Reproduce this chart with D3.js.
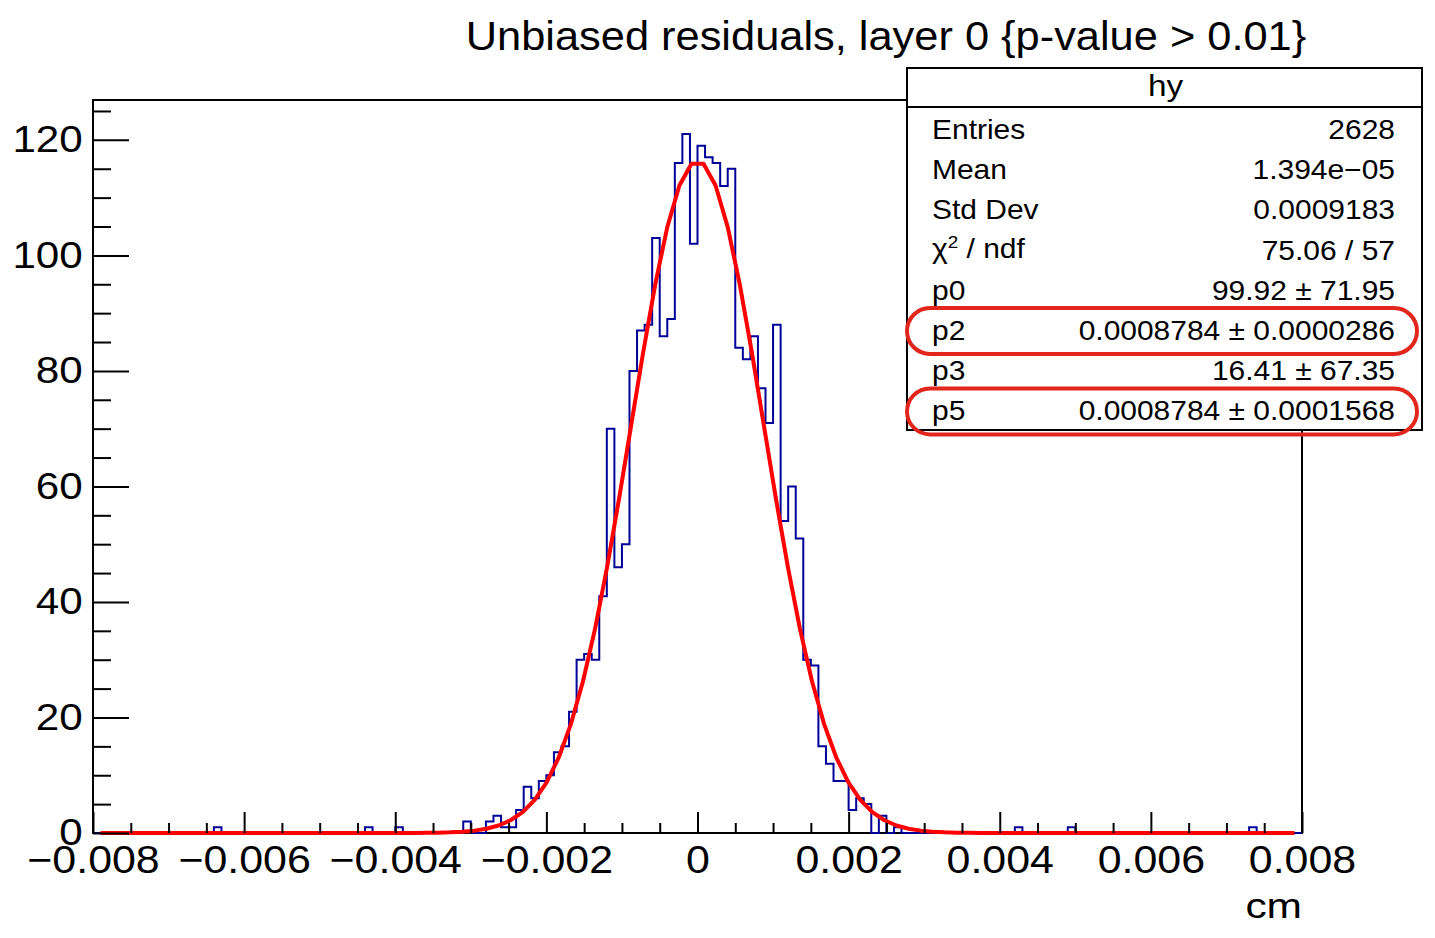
<!DOCTYPE html>
<html>
<head>
<meta charset="utf-8">
<script src="https://cdn.jsdelivr.net/npm/d3@7"></script>
<style>
  body { margin: 0; background: #fff; }
  text { font-family: "Liberation Sans", Arial, Helvetica, sans-serif; fill: #000; }
</style>
</head>
<body>
<svg id="chart" width="1435" height="938"></svg>
<script>
// histogram: 160 bins of 0.0001 starting at -0.008
const binLow = -0.008;
const binWidth = 0.0001;
const counts = [
  0, 0, 0, 0, 0, 0, 0, 0, 0, 0, 0, 0, 0, 0, 0, 0, 1, 0, 0, 0,
  0, 0, 0, 0, 0, 0, 0, 0, 0, 0, 0, 0, 0, 0, 0, 0, 1, 0, 0, 0,
  1, 0, 0, 0, 0, 0, 0, 0, 0, 2, 0, 0, 2, 3, 1, 1, 4, 8, 6, 9,
  10, 14, 15, 21, 30, 31, 30, 41, 70, 46, 50, 80, 87, 88, 103, 86, 89, 116, 121, 102,
  119, 117, 116, 112, 115, 84, 82, 86, 77, 71, 88, 54, 60, 51, 30, 29, 15, 12, 9, 9,
  4, 6, 5, 0, 3, 0, 1, 0, 0, 0, 0, 0, 0, 0, 0, 0, 0, 0, 0, 0,
  0, 0, 1, 0, 0, 0, 0, 0, 0, 1, 0, 0, 0, 0, 0, 0, 0, 0, 0, 0,
  0, 0, 0, 0, 0, 0, 0, 0, 0, 0, 0, 0, 0, 1, 0, 0, 0, 0, 0, 0
];

const xTicks = [-0.008, -0.006, -0.004, -0.002, 0, 0.002, 0.004, 0.006, 0.008];
const xTickLabels = ["\u22120.008", "\u22120.006", "\u22120.004", "\u22120.002", "0", "0.002", "0.004", "0.006", "0.008"];
const yTicks = [0, 20, 40, 60, 80, 100, 120];

// fit: p0*gaus(p1,p2) + p3*gaus(p4,p5)
const fitParams = { p0: 99.92, p1: 0, p2: 0.0008784, p3: 16.41, p4: 0, p5: 0.0008784 };
const fitRange = [-0.0079, 0.0079];
const fitPoints = 100;

const statLabels = ["Entries", "Mean", "Std Dev", "chi2", "p0", "p2", "p3", "p5"];
const statValues = ["2628", "1.394e\u221205", "0.0009183", "75.06 / 57", "99.92 \u00b1 71.95",
  "0.0008784 \u00b1 0.0000286", "16.41 \u00b1 67.35", "0.0008784 \u00b1 0.0001568"];
const circled = ["p2", "p5"];

const margin = { top: 100, right: 133, bottom: 105, left: 93 };
const W = 1435, H = 938;
const stretch = 1.11; // the reference glyphs are a bit wider than Liberation Sans

const svg = d3.select("#chart");

// text placed with a horizontal stretch around its anchor point
function label(parent, px, py, str, size, anchor, sx) {
  return parent.append("text")
    .attr("transform", `translate(${px},${py}) scale(${sx || stretch},1)`)
    .attr("text-anchor", anchor || "start")
    .style("font-size", size + "px")
    .text(str);
}

const x = d3.scaleLinear().domain([-0.008, 0.008]).range([margin.left, W - margin.right]);
const y = d3.scaleLinear().domain([0, 126.9]).range([H - margin.bottom, margin.top]);

// frame
svg.append("rect")
  .attr("x", x(-0.008)).attr("y", y(126.9))
  .attr("width", x(0.008) - x(-0.008)).attr("height", y(0) - y(126.9))
  .attr("fill", "none").attr("stroke", "#000").attr("stroke-width", 2);

// histogram outline
const pts = [[binLow, 0]];
counts.forEach((c, i) => {
  pts.push([binLow + i * binWidth, c]);
  pts.push([binLow + (i + 1) * binWidth, c]);
});
pts.push([binLow + counts.length * binWidth, 0]);

svg.append("path")
  .datum(pts)
  .attr("fill", "none")
  .attr("stroke", "#000099")
  .attr("stroke-width", 2)
  .attr("d", d3.line().x(d => x(d[0])).y(d => y(d[1])));

// fit curve
const fit = v => fitParams.p0 * Math.exp(-0.5 * ((v - fitParams.p1) / fitParams.p2) ** 2)
  + fitParams.p3 * Math.exp(-0.5 * ((v - fitParams.p4) / fitParams.p5) ** 2);
const fx = d3.range(fitPoints).map(i => fitRange[0] + i * (fitRange[1] - fitRange[0]) / (fitPoints - 1));

svg.append("path")
  .datum(fx)
  .attr("fill", "none")
  .attr("stroke", "#ff0000")
  .attr("stroke-width", 4)
  .attr("stroke-linejoin", "round")
  .attr("d", d3.line().x(d => x(d)).y(d => y(fit(d))));

// axes (ticks pointing inward like ROOT)
const yMinor = d3.range(0, 127, 5).filter(v => v % 20 !== 0);
svg.append("g")
  .attr("transform", `translate(${x(-0.008)},0)`)
  .call(d3.axisLeft(y).tickValues(yMinor).tickSize(-18).tickFormat(""))
  .call(g => g.select(".domain").remove());
svg.append("g")
  .attr("class", "yaxis")
  .attr("transform", `translate(${x(-0.008)},0)`)
  .call(d3.axisLeft(y).tickValues(yTicks).tickSize(-36).tickPadding(9).tickFormat(d3.format("d")))
  .call(g => g.select(".domain").remove());

const xMinor = d3.range(-0.008, 0.00801, 0.0005).filter((v, i) => i % 4 !== 0);
svg.append("g")
  .attr("transform", `translate(0,${y(0)})`)
  .call(d3.axisBottom(x).tickValues(xMinor).tickSize(-10).tickFormat(""))
  .call(g => g.select(".domain").remove());
svg.append("g")
  .attr("class", "xaxis")
  .attr("transform", `translate(0,${y(0)})`)
  .call(d3.axisBottom(x).tickValues(xTicks).tickSize(-21).tickPadding(13)
    .tickFormat((d, i) => xTickLabels[i]))
  .call(g => g.select(".domain").remove());

svg.selectAll(".tick line").attr("stroke", "#000").attr("stroke-width", 2);
svg.selectAll(".yaxis text").style("font-size", "37px")
  .attr("transform", "scale(1.14,1)");
svg.selectAll(".xaxis text").style("font-size", "38px")
  .attr("transform", "scale(1.13,1)");

// axis title
label(svg, x(0.008), 918, "cm", 36, "end", 1.18);

// title
label(svg, 886, 50, "Unbiased residuals, layer 0 {p-value > 0.01}", 40, "middle", 1.085);

// stats box
const box = { x: 907, y: 68, w: 515, h: 362, head: 39, row: 40.2 };
const stats = svg.append("g");
stats.append("rect")
  .attr("x", box.x).attr("y", box.y).attr("width", box.w).attr("height", box.h)
  .attr("fill", "#fff").attr("stroke", "#000").attr("stroke-width", 2);
stats.append("line")
  .attr("x1", box.x).attr("x2", box.x + box.w)
  .attr("y1", box.y + box.head).attr("y2", box.y + box.head)
  .attr("stroke", "#000").attr("stroke-width", 2);
label(stats, box.x + box.w / 2 + 1, box.y + 28, "hy", 29, "middle", 1.15);

statLabels.forEach((lab, i) => {
  const by = box.y + box.head + 32 + i * box.row;
  if (lab === "chi2") {
    const t = label(stats, box.x + 25, by - 2, "", 27, "start");
    t.append("tspan").text("\u03c7");
    t.append("tspan").attr("dy", -10).style("font-size", "17px").text("2");
    t.append("tspan").attr("dy", 10).text(" / ndf");
  } else {
    label(stats, box.x + 25, by, lab, 27, "start");
  }
  label(stats, box.x + box.w - 27, by, statValues[i], 27, "end");
  if (circled.includes(lab)) {
    stats.append("rect")
      .attr("x", box.x).attr("y", by - 32)
      .attr("width", box.w - 5).attr("height", 46)
      .attr("rx", 23).attr("ry", 23)
      .attr("fill", "none").attr("stroke", "#e3261b").attr("stroke-width", 4);
  }
});
</script>
</body>
</html>
